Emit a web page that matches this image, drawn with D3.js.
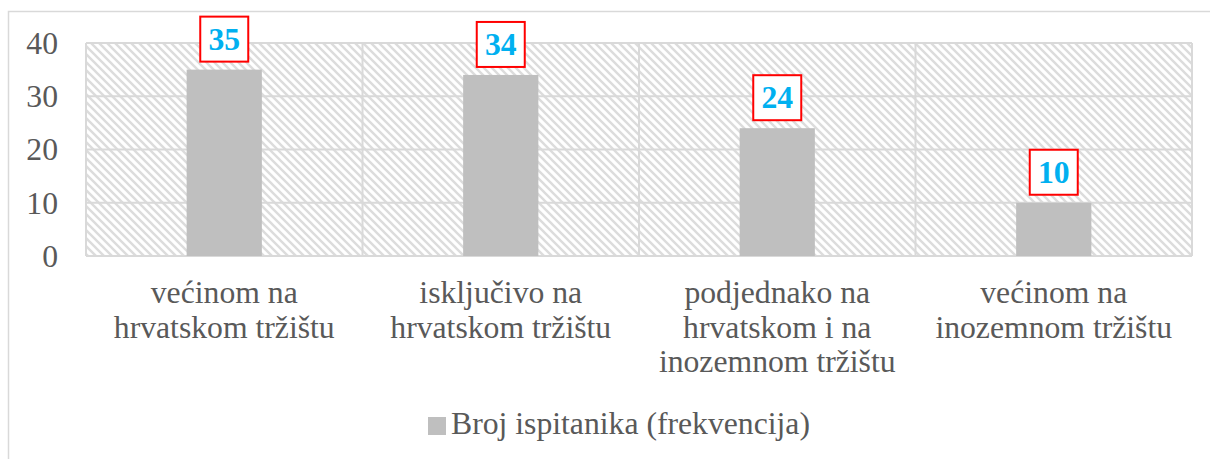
<!DOCTYPE html>
<html>
<head>
<meta charset="utf-8">
<script src="https://cdn.jsdelivr.net/npm/d3@7"></script>
<style>
  body { margin: 0; background: #fff; }
  svg { display: block; }
  svg text { font-family: "Liberation Serif", "Times New Roman", serif; }
</style>
</head>
<body>
<div id="vis"></div>
<script>
const FRAME_WIDTH = 1210;
const FRAME_HEIGHT = 459;
const MARGINS = {left: 86, right: 18, top: 43, bottom: 203};

// data
const categories = [
  ["većinom na", "hrvatskom tržištu"],
  ["isključivo na", "hrvatskom tržištu"],
  ["podjednako na", "hrvatskom i na", "inozemnom tržištu"],
  ["većinom na", "inozemnom tržištu"]
];
const values = [35, 34, 24, 10];
const yTicks = [0, 10, 20, 30, 40];
const seriesName = "Broj ispitanika (frekvencija)";

const GRID = "#d9d9d9";
const TEXT = "#595959";
const FS = 31.7;

const VIS_WIDTH = FRAME_WIDTH - MARGINS.left - MARGINS.right;
const VIS_HEIGHT = FRAME_HEIGHT - MARGINS.top - MARGINS.bottom;

const svg = d3.select("#vis")
  .append("svg")
    .attr("width", FRAME_WIDTH)
    .attr("height", FRAME_HEIGHT);

// hatch pattern for plot background
const pat = svg.append("defs").append("pattern")
    .attr("id", "hatch")
    .attr("patternUnits", "userSpaceOnUse")
    .attr("width", 8)
    .attr("height", 8);
pat.append("rect").attr("width", 8).attr("height", 8).attr("fill", "#fff");
pat.append("path")
    .attr("d", "M-2,-2 L10,10 M-2,6 L2,10 M6,-2 L10,2")
    .attr("stroke", "#dcdcdc")
    .attr("stroke-width", 2.4);

// outer chart border
svg.append("rect")
    .attr("x", 8.5).attr("y", 11.5)
    .attr("width", 1400).attr("height", 600)
    .attr("fill", "none")
    .attr("stroke", GRID)
    .attr("stroke-width", 1.5);

const X_SCALE = d3.scaleBand()
    .domain(d3.range(categories.length))
    .range([MARGINS.left, MARGINS.left + VIS_WIDTH])
    .padding(0);

const Y_SCALE = d3.scaleLinear()
    .domain([0, 40])
    .range([MARGINS.top + VIS_HEIGHT, MARGINS.top]);

// plot area background
svg.append("rect")
    .attr("x", MARGINS.left).attr("y", MARGINS.top)
    .attr("width", VIS_WIDTH).attr("height", VIS_HEIGHT)
    .attr("fill", "url(#hatch)");

// horizontal gridlines
svg.append("g")
  .selectAll("line")
  .data(yTicks)
  .enter()
  .append("line")
    .attr("x1", MARGINS.left)
    .attr("x2", MARGINS.left + VIS_WIDTH)
    .attr("y1", (d) => Y_SCALE(d))
    .attr("y2", (d) => Y_SCALE(d))
    .attr("stroke", GRID)
    .attr("stroke-width", 2);

// vertical category dividers
svg.append("g")
  .selectAll("line")
  .data(d3.range(categories.length + 1))
  .enter()
  .append("line")
    .attr("x1", (d) => MARGINS.left + d * X_SCALE.step())
    .attr("x2", (d) => MARGINS.left + d * X_SCALE.step())
    .attr("y1", MARGINS.top)
    .attr("y2", MARGINS.top + VIS_HEIGHT)
    .attr("stroke", GRID)
    .attr("stroke-width", 2);

// y axis labels
const yAxis = svg.append("g")
    .attr("transform", "translate(" + (MARGINS.left - 28) + ",0)")
    .call(d3.axisLeft(Y_SCALE).tickValues(yTicks).tickSize(0).tickPadding(0));
yAxis.select(".domain").remove();
yAxis.attr("font-family", null).attr("font-size", null);
yAxis.selectAll("text")
    .attr("font-size", FS)
    .attr("fill", TEXT)
    .attr("dy", "0.33em");

// bars
const BAR_W = X_SCALE.bandwidth() * 0.272;
svg.append("g")
  .selectAll("rect")
  .data(values)
  .enter()
  .append("rect")
    .attr("x", (d, i) => X_SCALE(i) + X_SCALE.bandwidth() / 2 - BAR_W / 2)
    .attr("y", (d) => Y_SCALE(d))
    .attr("width", BAR_W)
    .attr("height", (d) => Y_SCALE(0) - Y_SCALE(d))
    .attr("fill", "#bfbfbf");

// data labels with red boxes
const lbl = svg.append("g")
  .selectAll("g")
  .data(values)
  .enter()
  .append("g")
    .attr("transform", (d, i) => "translate(" + (X_SCALE(i) + X_SCALE.bandwidth() / 2) +
          "," + (Y_SCALE(d) - 8) + ")");
lbl.append("rect")
    .attr("x", -24).attr("y", -45)
    .attr("width", 48).attr("height", 45)
    .attr("fill", "#fff")
    .attr("stroke", "#ff0000")
    .attr("stroke-width", 2);
lbl.append("text")
    .attr("x", 0).attr("y", -12)
    .attr("text-anchor", "middle")
    .attr("font-weight", "bold")
    .attr("font-size", FS)
    .attr("fill", "#00b0f0")
    .text((d) => d);

// category labels
const cat = svg.append("g")
  .selectAll("text")
  .data(categories)
  .enter()
  .append("text")
    .attr("text-anchor", "middle")
    .attr("font-size", FS)
    .attr("fill", TEXT);
cat.selectAll("tspan")
  .data((d, i) => d.map((t) => ({t: t, i: i})))
  .enter()
  .append("tspan")
    .attr("x", (d) => X_SCALE(d.i) + X_SCALE.bandwidth() / 2)
    .attr("y", (d, j) => 303 + j * 34.5)
    .text((d) => d.t);

// legend
const leg = svg.append("g");
leg.append("rect")
    .attr("x", 428).attr("y", 417)
    .attr("width", 18).attr("height", 18)
    .attr("fill", "#bfbfbf");
leg.append("text")
    .attr("x", 451).attr("y", 434)
    .attr("font-size", FS)
    .attr("fill", TEXT)
    .text(seriesName);
</script>
</body>
</html>
